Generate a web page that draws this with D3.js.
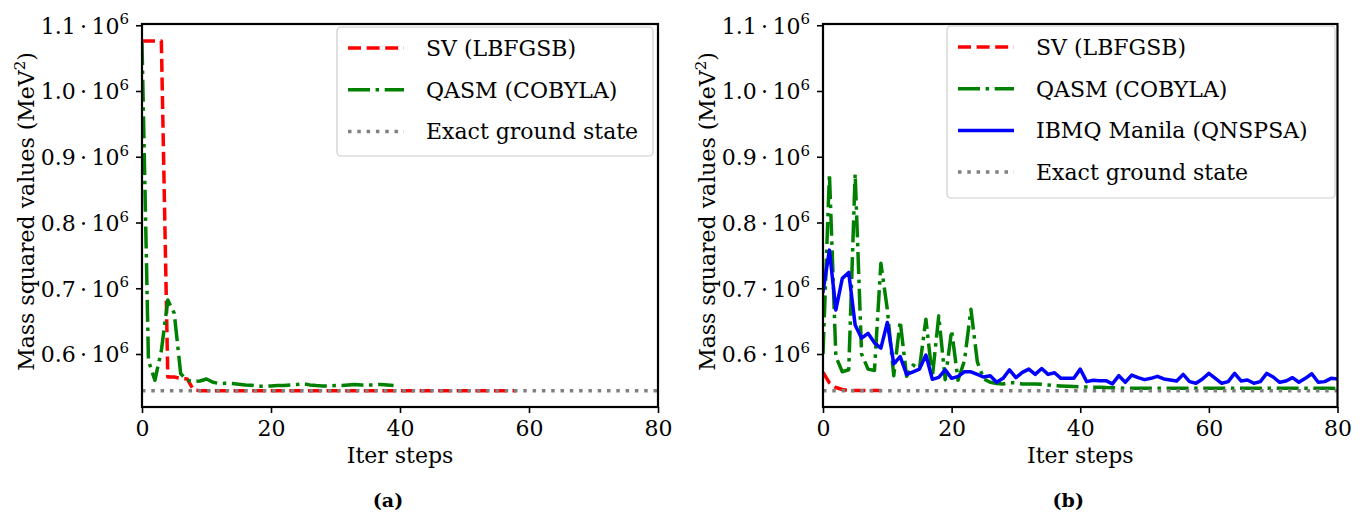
<!DOCTYPE html>
<html>
<head>
<meta charset="utf-8">
<script src="https://cdn.jsdelivr.net/npm/d3@7"></script>
<style>
  html, body { margin: 0; padding: 0; background: #fff; }
  svg { display: block; }
  text { font-family: "DejaVu Serif", "Liberation Serif", serif; fill: #000; }
</style>
</head>
<body>
<svg id="fig" width="1365" height="513"></svg>
<script>
// ---- shared axis ticks ----
const iterTicks = [0, 20, 40, 60, 80];
const massTicks = [600000, 700000, 800000, 900000, 1000000, 1100000];
const massTickLabels = ["0.6", "0.7", "0.8", "0.9", "1.0", "1.1"];

// ---- exact ground-state energy (MeV^2) ----
const exactGround = 544000;

// ---- (a) statevector (L-BFGS-B), one value per iteration step ----
const svLbfgsbA = [
  1076000, 1076000, 1076000, 1076000, 565000, 565000, 563000, 562000, 545000, 544300,
  544300, 544300, 544300, 544300, 544300, 544300, 544300, 544300, 544300, 544300,
  544300, 544300, 544300, 544300, 544300, 544300, 544300, 544300, 544300, 544300,
  544300, 544300, 544300, 544300, 544300, 544300, 544300, 544300, 544300, 544300,
  544300, 544300, 544300, 544300, 544300, 544300, 544300, 544300, 544300, 544300,
  544300, 544300, 544300, 544300, 544300, 544300, 544300, 544300, 544300
];

// ---- (a) QASM simulator (COBYLA) ----
const qasmCobylaA = [
  1073000, 590000, 560000, 605000, 682000, 662000, 570000, 560000, 558000, 559000,
  562000, 557000, 555000, 555500, 555000, 554000, 553000, 552500, 551000, 551000,
  551500, 552000, 552000, 553000, 553500, 555000, 553000, 552000, 551500, 551500,
  552000, 552000, 553000, 553500, 553000, 553000, 553000, 553800, 553000, 552000
];

// ---- (b) statevector (L-BFGS-B) ----
const svLbfgsbB = [572000, 556000, 549000, 546000, 544500, 544500, 544500, 544500, 544500, 544500];

// ---- (b) QASM simulator (COBYLA) ----
const qasmCobylaB = [
  600000, 874000, 596000, 573000, 576000, 874000, 600000, 577000, 575000, 738000,
  668000, 567000, 650000, 566000, 583000, 578000, 653000, 565000, 658000, 561000,
  636000, 560000, 590000, 668000, 588000, 562000, 557000, 555000, 554500, 556500,
  556000, 554500, 554500, 554500, 554000, 553000, 552000, 551500, 551000, 550500,
  550000, 550000, 549500, 549500, 549000, 548800, 548500, 548000, 547800, 547800,
  547800, 547800, 547800, 547800, 547800, 547800, 547800, 547800, 547800, 547800,
  547800, 547800, 547800, 547800, 547800, 547800, 547800, 547800, 547800, 547800,
  547800, 547800, 547800, 547800, 547800, 547800, 547800, 547800, 547800, 547800,
  547600
];

// ---- (b) IBMQ Manila hardware (QN-SPSA) ----
const ibmqManilaB = [
  695000, 758000, 667000, 715000, 724000, 644000, 624000, 631500, 617000, 609000,
  648000, 585000, 596000, 569000, 573000, 577000, 598500, 561500, 564500, 576000,
  563000, 566000, 573000, 573000, 569000, 565000, 567000, 557000, 563000, 576000,
  564000, 572000, 577000, 569000, 578000, 569000, 571500, 563000, 563000, 563000,
  577000, 558000, 560000, 559500, 559500, 554500, 567000, 557000, 568000, 564000,
  561000, 563000, 566000, 562000, 560500, 559000, 569000, 558000, 555500, 562000,
  570500, 563000, 555500, 558000, 570500, 559000, 560500, 555500, 558000, 570500,
  565000, 557000, 559000, 564000, 557000, 563000, 570000, 557000, 558000, 563000,
  562000
];

// ---- legend / series labels ----
const labelSV = "SV (LBFGSB)";
const labelQASM = "QASM (COBYLA)";
const labelIBMQ = "IBMQ Manila (QNSPSA)";
const labelExact = "Exact ground state";

// ---- line styles ----
const styles = {
  sv:    { stroke: "#ff0000", dash: "13,5.6" },
  qasm:  { stroke: "#008000", dash: "22,5.6,3.5,5.6" },
  ibmq:  { stroke: "#0000ff", dash: null },
  exact: { stroke: "#808080", dash: "3.5,5.8" }
};
const LW = 3.5;

const svg = d3.select("#fig");

const panels = [
  {
    id: "a", left: 142, right: 658, top: 24, bottom: 407,
    series: [
      { key: "sv", label: labelSV, values: svLbfgsbA },
      { key: "qasm", label: labelQASM, values: qasmCobylaA }
    ],
    legend: { x: 337, y: 27, w: 316, h: 129 },
    ylabelX: 26, caption: "(a)"
  },
  {
    id: "b", left: 823, right: 1337.5, top: 24, bottom: 407,
    series: [
      { key: "sv", label: labelSV, values: svLbfgsbB },
      { key: "qasm", label: labelQASM, values: qasmCobylaB },
      { key: "ibmq", label: labelIBMQ, values: ibmqManilaB }
    ],
    legend: { x: 947, y: 26, w: 388, h: 172 },
    ylabelX: 707, caption: "(b)"
  }
];

panels.forEach(p => {
  const x = d3.scaleLinear().domain([0, 80]).range([p.left, p.right]);
  const y = d3.scaleLinear().domain([519400, 1101900]).range([p.bottom, p.top]);
  const g = svg.append("g");

  const clipId = "clip-" + p.id;
  svg.append("defs").append("clipPath").attr("id", clipId)
    .append("rect").attr("x", p.left).attr("y", p.top)
    .attr("width", p.right - p.left).attr("height", p.bottom - p.top);

  const plot = g.append("g").attr("clip-path", `url(#${clipId})`);
  const line = d3.line().x((d, i) => x(i)).y(d => y(d));

  p.series.forEach(s => {
    const st = styles[s.key];
    plot.append("path")
      .datum(s.values)
      .attr("d", line)
      .attr("fill", "none")
      .attr("stroke", st.stroke)
      .attr("stroke-width", LW)
      .attr("stroke-linejoin", "round")
      .attr("stroke-linecap", st.dash ? "butt" : "square")
      .attr("stroke-dasharray", st.dash);
  });

  // exact ground state reference line across the full step range
  plot.append("path")
    .datum([[0, exactGround], [80, exactGround]])
    .attr("d", d3.line().x(d => x(d[0])).y(d => y(d[1])))
    .attr("fill", "none")
    .attr("stroke", styles.exact.stroke)
    .attr("stroke-width", LW)
    .attr("stroke-dasharray", styles.exact.dash);

  // x axis
  const xAxis = g.append("g")
    .attr("transform", `translate(0,${p.bottom})`)
    .call(d3.axisBottom(x).tickValues(iterTicks).tickSize(6).tickPadding(7).tickFormat(d3.format("d")));
  xAxis.select(".domain").remove();
  xAxis.selectAll(".tick line").attr("stroke", "#000").attr("stroke-width", 1.6);
  xAxis.selectAll(".tick text").attr("font-size", 22).attr("font-family", null);

  // y axis
  const yAxis = g.append("g")
    .attr("transform", `translate(${p.left},0)`)
    .call(d3.axisLeft(y).tickValues(massTicks).tickSize(6).tickPadding(7).tickFormat(() => ""));
  yAxis.select(".domain").remove();
  yAxis.selectAll(".tick line").attr("stroke", "#000").attr("stroke-width", 1.6);
  yAxis.selectAll(".tick text").each(function (d, i) {
    const t = d3.select(this).attr("font-size", 22).attr("font-family", null)
      .attr("dy", "0.36em");
    t.append("tspan").text(massTickLabels[i] + "\u2009\u00B7\u200910");
    t.append("tspan").attr("font-size", 15).attr("dy", "-0.62em").text("6");
  });

  // frame
  g.append("rect")
    .attr("x", p.left).attr("y", p.top)
    .attr("width", p.right - p.left).attr("height", p.bottom - p.top)
    .attr("fill", "none").attr("stroke", "#000").attr("stroke-width", 2.2);

  // axis labels
  g.append("text")
    .attr("x", (p.left + p.right) / 2).attr("y", 463)
    .attr("text-anchor", "middle").attr("font-size", 22)
    .text("Iter steps");

  const yl = g.append("text")
    .attr("transform", `translate(${p.ylabelX},${(p.top + p.bottom) / 2 - 4}) rotate(-90)`)
    .attr("text-anchor", "middle").attr("font-size", 22).attr("dy", "0.35em");
  yl.append("tspan").text("Mass squared values (MeV");
  yl.append("tspan").attr("font-size", 15).attr("dy", "-0.6em").text("2");
  yl.append("tspan").attr("dy", "0.4em").text(")");

  // legend
  const L = p.legend;
  const lg = g.append("g");
  lg.append("rect")
    .attr("x", L.x).attr("y", L.y).attr("width", L.w).attr("height", L.h)
    .attr("rx", 4).attr("ry", 4)
    .attr("fill", "#fff").attr("fill-opacity", 0.8)
    .attr("stroke", "#cccccc").attr("stroke-width", 1.2);

  const entries = p.series.map(s => ({ key: s.key, label: s.label }))
    .concat([{ key: "exact", label: labelExact }]);
  entries.forEach((e, i) => {
    const cy = L.y + 21 + i * 41.7;
    const st = styles[e.key];
    lg.append("line")
      .attr("x1", L.x + 11).attr("x2", L.x + 67)
      .attr("y1", cy).attr("y2", cy)
      .attr("stroke", st.stroke).attr("stroke-width", LW)
      .attr("stroke-dasharray", st.dash);
    lg.append("text")
      .attr("x", L.x + 89).attr("y", cy).attr("dy", "0.36em")
      .attr("font-size", 22)
      .text(e.label);
  });

  // sub-figure caption
  g.append("text")
    .attr("x", (p.left + p.right) / 2 - 12).attr("y", 507)
    .attr("text-anchor", "middle").attr("font-size", 19).attr("font-weight", "bold")
    .text(p.caption);
});
</script>
</body>
</html>
